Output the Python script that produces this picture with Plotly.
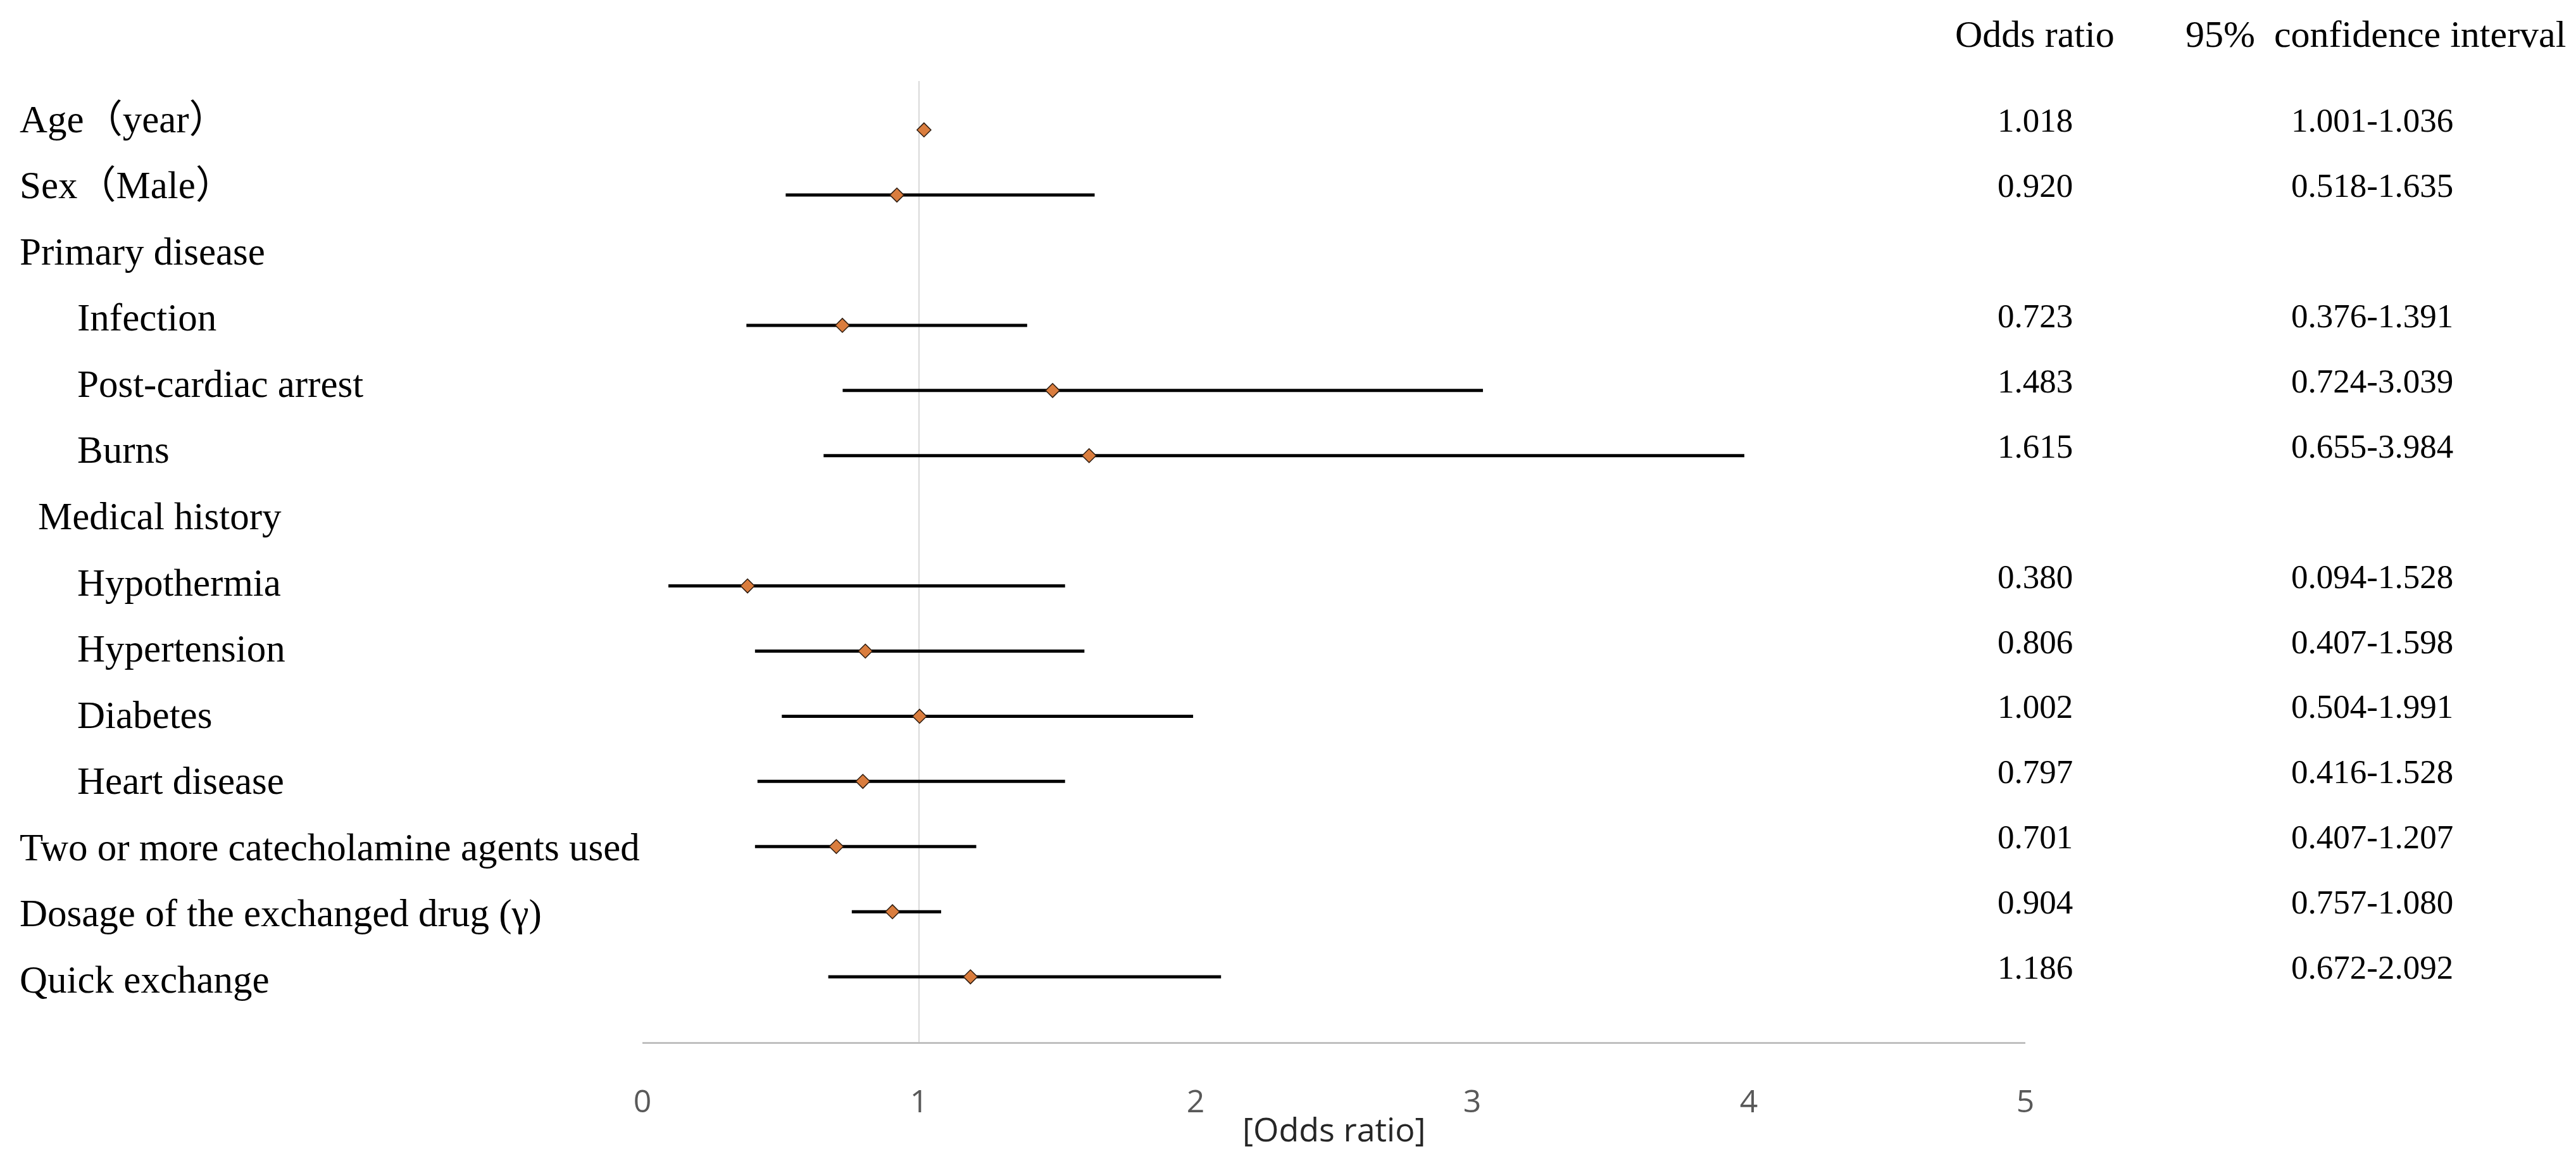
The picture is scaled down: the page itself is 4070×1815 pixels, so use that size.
import plotly.graph_objects as go

# ── Data ──────────────────────────────────────────────────────────────────────
labels = [
    "Age（year）",
    "Sex（Male）",
    "Primary disease",
    "Infection",
    "Post-cardiac arrest",
    "Burns",
    "Medical history",
    "Hypothermia",
    "Hypertension",
    "Diabetes",
    "Heart disease",
    "Two or more catecholamine agents used",
    "Dosage of the exchanged drug (γ)",
    "Quick exchange",
]
# 0 = top level, 1 = sub item, 2 = "Medical history" (slightly indented header)
label_level = [0, 0, 0, 1, 1, 1, 2, 1, 1, 1, 1, 0, 0, 0]

odds_ratio = [1.018, 0.920, None, 0.723, 1.483, 1.615, None,
              0.380, 0.806, 1.002, 0.797, 0.701, 0.904, 1.186]
ci_low     = [1.001, 0.518, None, 0.376, 0.724, 0.655, None,
              0.094, 0.407, 0.504, 0.416, 0.407, 0.757, 0.672]
ci_high    = [1.036, 1.635, None, 1.391, 3.039, 3.984, None,
              1.528, 1.598, 1.991, 1.528, 1.207, 1.080, 2.092]

x_ticks = [0, 1, 2, 3, 4, 5]

# ── Style ─────────────────────────────────────────────────────────────────────
SERIF = "Liberation Serif, Times New Roman, Noto Sans CJK JP, serif"
SANS  = "Open Sans, Noto Sans, sans-serif"
INDENT_PX = {0: -986, 1: -895, 2: -957}
OR_COL_X  = 1.007   # paper x of the "Odds ratio" column
CI_COL_X  = 1.251   # paper x of the confidence interval column

rows = list(range(len(labels)))
pts  = [(r, o, lo, hi) for r, o, lo, hi in zip(rows, odds_ratio, ci_low, ci_high) if o is not None]
p_rows  = [p[0] for p in pts]
p_or    = [p[1] for p in pts]
p_plus  = [p[3] - p[1] for p in pts]
p_minus = [p[1] - p[2] for p in pts]

fig = go.Figure()

fig.add_trace(go.Scatter(
    x          = p_or,
    y          = p_rows,
    mode       = "markers",
    marker     = dict(symbol="diamond", size=17, color="#DA7D3E",
                      line=dict(color="#2b1a0e", width=1.5)),
    error_x    = dict(type="data", symmetric=False, array=p_plus, arrayminus=p_minus,
                      color="black", thickness=5, width=0),
    showlegend = False,
    hoverinfo  = "skip",
))

# hidden trace that anchors the label axis
fig.add_trace(go.Scatter(
    x=[None] * len(rows), y=rows, yaxis="y2", mode="markers",
    showlegend=False, hoverinfo="skip",
))

annotations = []
for r, text, lvl in zip(rows, labels, label_level):
    annotations.append(dict(
        x=0, xref="paper", xanchor="left", xshift=INDENT_PX[lvl],
        y=r, yref="y2", yanchor="middle",
        text=text, showarrow=False,
        font=dict(family=SERIF, size=61, color="black"),
    ))

for r, o, lo, hi in pts:
    annotations.append(dict(
        x=OR_COL_X, xref="paper", xanchor="center", y=r, yref="y", yanchor="middle", yshift=15,
        text=f"{o:.3f}", showarrow=False,
        font=dict(family=SERIF, size=53, color="black"),
    ))
    annotations.append(dict(
        x=CI_COL_X, xref="paper", xanchor="center", y=r, yref="y", yanchor="middle", yshift=15,
        text=f"{lo:.3f}-{hi:.3f}", showarrow=False,
        font=dict(family=SERIF, size=53, color="black"),
    ))

annotations += [
    dict(x=OR_COL_X, xref="paper", xanchor="center", y=1.049, yref="paper", yanchor="middle",
         text="Odds ratio", showarrow=False,
         font=dict(family=SERIF, size=60, color="black")),
    dict(x=1.2535, xref="paper", xanchor="center", y=1.049, yref="paper", yanchor="middle",
         text="95%\u00a0\u00a0confidence interval", showarrow=False,
         font=dict(family=SERIF, size=60, color="black")),
    dict(x=0.5, xref="paper", xanchor="center", y=-0.0896, yref="paper", yanchor="middle",
         text="[Odds ratio]", showarrow=False,
         font=dict(family=SANS, size=52, color="#262626")),
]

fig.update_layout(
    width         = 4070,
    height        = 1815,
    margin        = dict(l=1007, r=878, t=120, b=177),
    paper_bgcolor = "white",
    plot_bgcolor  = "white",
    annotations   = annotations,
    shapes        = [dict(type="line", xref="x", yref="paper", x0=1, x1=1, y0=0, y1=1,
                          line=dict(color="#D9D9D9", width=2), layer="below")],
    xaxis         = dict(
        range=[0, 5], tickvals=x_ticks, showgrid=False, zeroline=False,
        showline=True, linecolor="#BFBFBF", linewidth=3,
        ticks="outside", ticklen=48, tickcolor="rgba(0,0,0,0)",
        tickfont=dict(family=SANS, size=50, color="#595959"),
    ),
    yaxis         = dict(range=[14, -0.75], visible=False),
    yaxis2        = dict(range=[13.94, -0.574], overlaying="y", visible=False),
)

fig.write_html("out.html")
